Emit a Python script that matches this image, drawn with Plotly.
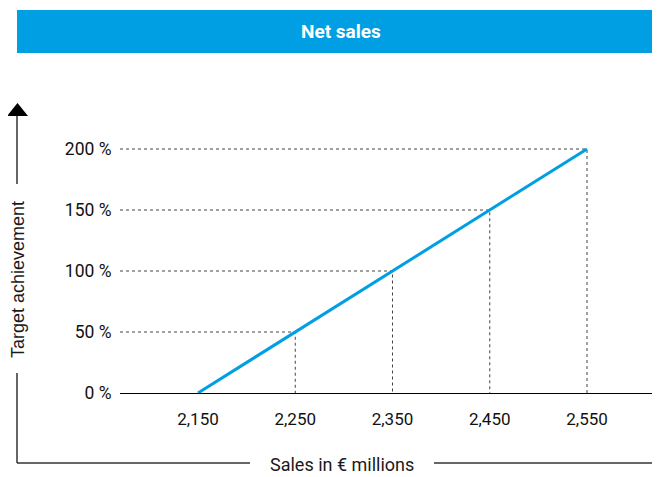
import plotly.graph_objects as go

# ---- data ----
sales = [2150, 2250, 2350, 2450, 2550]          # € millions
achievement = [0, 50, 100, 150, 200]            # %
x_ticks = [2150, 2250, 2350, 2450, 2550]
x_tick_labels = ["2,150", "2,250", "2,350", "2,450", "2,550"]
y_ticks = [0, 50, 100, 150, 200]
y_tick_labels = ["0 %", "50 %", "100 %", "150 %", "200 %"]

OFF = 8  # page body margin offset
W, H = 660 - OFF, 477 - OFF
ML, MR, MT, MB = 120 - OFF, 2, 130 - OFF, 84
PW, PH = W - ML - MR, H - MT - MB
X_MIN, X_MAX = 2069.8, 2623.0
Y_MIN, Y_MAX = 0, 215.6

BLUE = "#009FE3"
GUIDE = "#444444"

def px(xp):
    return (xp - OFF - ML) / PW

def py(yp):
    return (H - MB - (yp - OFF)) / PH

fig = go.Figure()

# dotted guide lines from the data points
for xv, yv in zip(sales[1:], achievement[1:]):
    fig.add_trace(go.Scatter(
        x=[X_MIN, xv, xv], y=[yv, yv, 0], mode="lines",
        line=dict(color=GUIDE, width=1, dash="3px,3px"),
        hoverinfo="skip", showlegend=False, cliponaxis=False))

fig.add_trace(go.Scatter(
    x=sales, y=achievement, mode="lines",
    line=dict(color=BLUE, width=3), showlegend=False, cliponaxis=False))

shapes = []
# title bar
shapes.append(dict(type="rect", xref="paper", yref="paper",
                   x0=px(17), x1=px(664), y0=py(53), y1=py(10),
                   fillcolor=BLUE, line=dict(width=0), layer="below"))
# vertical arrow axis
line_style = dict(color="#333333", width=1.5)
shapes.append(dict(type="line", xref="paper", yref="paper",
                   x0=px(17), x1=px(17), y0=py(114), y1=py(184), line=line_style))
shapes.append(dict(type="line", xref="paper", yref="paper",
                   x0=px(17), x1=px(17), y0=py(373), y1=py(463), line=line_style))
shapes.append(dict(type="path", xref="paper", yref="paper",
                   path=f"M {px(7)} {py(116)} L {px(28)} {py(116)} L {px(17.5)} {py(103)} Z",
                   fillcolor="black", line=dict(width=0)))
# horizontal arrow axis
shapes.append(dict(type="line", xref="paper", yref="paper",
                   x0=px(17), x1=px(250), y0=py(463), y1=py(463), line=line_style))
shapes.append(dict(type="line", xref="paper", yref="paper",
                   x0=px(434), x1=px(656), y0=py(463), y1=py(463), line=line_style))
shapes.append(dict(type="path", xref="paper", yref="paper",
                   path=f"M {px(655)} {py(456)} L {px(655)} {py(470)} L {px(668)} {py(463)} Z",
                   fillcolor="black", line=dict(width=0)))

annotations = [
    dict(text="<b>Net sales</b>", xref="paper", yref="paper", x=px(341), y=py(32),
         showarrow=False, font=dict(family="Roboto", size=19, color="white"),
         xanchor="center", yanchor="middle"),
    dict(text="Target achievement", xref="paper", yref="paper", x=px(18), y=py(280),
         showarrow=False, textangle=-90,
         font=dict(family="Liberation Sans", size=18, color="#1a1a1a"),
         xanchor="center", yanchor="middle"),
    dict(text="Sales in € millions", xref="paper", yref="paper", x=px(342), y=py(464),
         showarrow=False, font=dict(family="Roboto", size=18, color="#1a1a1a"),
         xanchor="center", yanchor="middle"),
]

fig.update_layout(
    width=W, height=H,
    margin=dict(l=ML, r=MR, t=MT, b=MB, pad=0),
    paper_bgcolor="white", plot_bgcolor="white",
    shapes=shapes, annotations=annotations,
    xaxis=dict(range=[X_MIN, X_MAX], tickvals=x_ticks, ticktext=x_tick_labels,
               showgrid=False, zeroline=False, showline=True,
               linecolor="black", linewidth=1.2,
               ticks="outside", ticklen=10, tickcolor="rgba(0,0,0,0)",
               tickfont=dict(family="Roboto", size=17, color="#111111"),
               fixedrange=True),
    yaxis=dict(range=[Y_MIN, Y_MAX], tickvals=y_ticks, ticktext=y_tick_labels,
               showgrid=False, zeroline=False, showline=False,
               ticks="outside", ticklen=4, tickcolor="rgba(0,0,0,0)",
               tickfont=dict(family="Roboto", size=17.5, color="#111111"),
               fixedrange=True),
    showlegend=False,
)

fig.write_html("out.html")
